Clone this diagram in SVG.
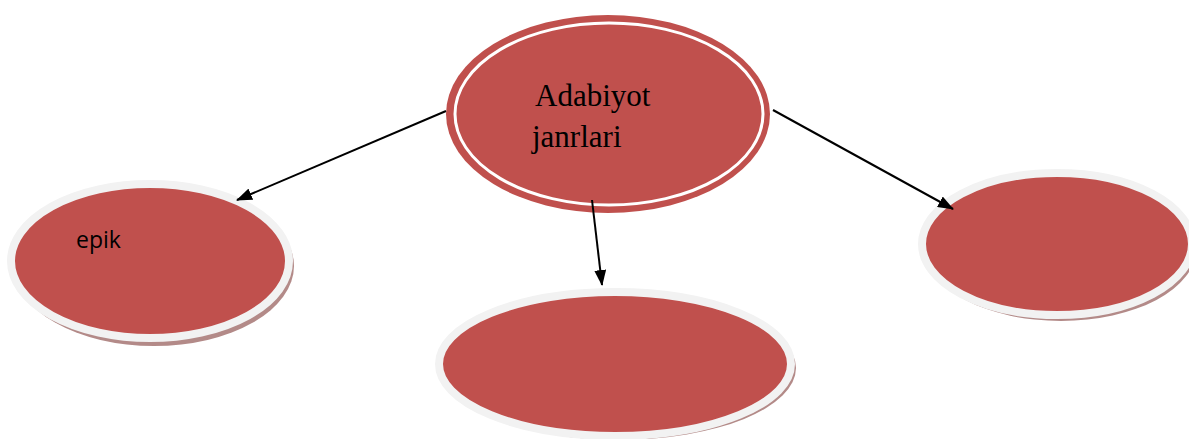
<svg xmlns="http://www.w3.org/2000/svg" width="1189" height="439" viewBox="0 0 1189 439">
<style>
.shadow{fill:#B38A88}
.ring{fill:#C0504D;stroke:#F2F2F2;stroke-width:8}
.conn line{stroke:#000;stroke-width:2;marker-end:url(#ah)}
.serif{font-family:"Liberation Serif","Times New Roman",serif;font-size:31px;fill:#000}
.sans{font-family:"Open Sans","Liberation Sans",sans-serif;font-size:23px;fill:#000}
</style>
<defs>
<marker id="ah" viewBox="0 0 16 12" refX="15" refY="6" markerWidth="16" markerHeight="12" markerUnits="userSpaceOnUse" orient="auto">
<path d="M0,0 L16,6 L0,12 z" fill="#000"/>
</marker>
</defs>
<rect width="1189" height="439" fill="#fff"/>
<g id="node-center">
<ellipse cx="608" cy="114" rx="162" ry="99" fill="#C0504D"/>
<ellipse cx="609" cy="114" rx="154" ry="91" fill="none" stroke="#fff" stroke-width="3"/>
<text class="serif" x="535" y="106">Adabiyot</text>
<text class="serif" x="532" y="147">janrlari</text>
</g>
<g id="node-epik">
<ellipse class="shadow" cx="154" cy="266" rx="140" ry="80"/>
<ellipse class="ring" cx="150" cy="261" rx="139" ry="77"/>
<text class="sans" x="76" y="248">epik</text>
</g>
<g id="node-bottom">
<ellipse class="shadow" cx="619" cy="368" rx="177" ry="72"/>
<ellipse class="ring" cx="615" cy="364" rx="176" ry="72"/>
</g>
<g id="node-right">
<ellipse class="shadow" cx="1061" cy="249" rx="135" ry="72"/>
<ellipse class="ring" cx="1057" cy="244" rx="135" ry="71"/>
</g>
<g id="connectors" class="conn">
<line x1="446" y1="111" x2="237" y2="200"/>
<line x1="592" y1="200" x2="602" y2="285"/>
<line x1="773" y1="110" x2="953" y2="209"/>
</g>
</svg>
